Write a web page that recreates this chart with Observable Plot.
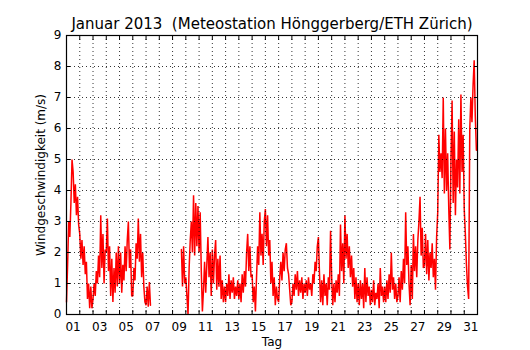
<!DOCTYPE html>
<html>
<head>
<meta charset="utf-8">
<script src="https://cdn.jsdelivr.net/npm/d3@7"></script>
<script src="https://cdn.jsdelivr.net/npm/@observablehq/plot@0.6"></script>
<style>
  html, body { margin: 0; padding: 0; background: #fff; }
  svg { font-family: "DejaVu Sans", sans-serif; }
</style>
</head>
<body>
<div id="chart"></div>
<script>
const title = "Januar 2013  (Meteostation Hönggerberg/ETH Zürich)";
const yLabel = "Windgeschwindigkeit (m/s)";
const xLabel = "Tag";
const stepHours = 2; // one reading every 2 hours, starting 1 Jan 2013 00:00
const dayTickLabels = ["01","03","05","07","09","11","13","15","17","19","21","23","25","27","29","31"];
const yTicks = [0,1,2,3,4,5,6,7,8,9];

// wind speed (m/s), 12 readings per day; null = no data
const speed = [
  /* 01 */ 0.4, 1.6, 3.0, 2.5, 3.6, 5.0, 4.6, 3.6, 4.2, 3.2, 3.8, 2.9,
  /* 02 */ 2.6, 1.8, 2.4, 1.6, 2.2, 1.3, 1.7, 0.5, 1.0, 0.2, 0.9, 0.2,
  /* 03 */ 0.5, 1.0, 0.6, 1.4, 1.0, 1.9, 1.2, 3.2, 1.5, 2.6, 1.0, 2.1,
  /* 04 */ 2.0, 3.1, 1.4, 2.2, 0.6, 1.8, 0.4, 1.5, 0.7, 2.0, 0.9, 2.2,
  /* 05 */ 1.0, 2.0, 0.7, 1.6, 1.1, 2.2, 1.4, 2.4, 3.0, 1.5, 2.1, 0.6,
  /* 06 */ 0.6, 1.5, 1.1, 2.3, 1.8, 3.1, 1.7, 2.6, 1.2, 2.0, 0.9, 0.4,
  /* 07 */ 0.3, 0.9, 0.25, 1.05, 0.3, null, null, null, null, null, null, null,
  /* 08 */ null, null, null, null, null, null, null, null, null, null, null, null,
  /* 09 */ null, null, null, null, null, null, null, null, 2.1, 0.9, 2.2, 1.0,
  /* 10 */ 1.2, 0.6, 0.0, 1.5, 2.4, 3.0, 2.0, 3.85, 1.9, 3.6, 2.2, 3.5,
  /* 11 */ 2.0, 3.3, 1.4, 0.1, 0.8, 1.7, 0.7, 1.6, 2.5, 1.2, 2.0, 0.6,
  /* 12 */ 2.1, 1.0, 1.9, 2.4, 0.8, 1.8, 0.9, 1.9, 0.5, 1.1, 0.4, 0.9,
  /* 13 */ 0.4, 1.0, 0.6, 1.3, 0.5, 1.1, 0.7, 1.2, 0.5, 0.9, 0.6, 1.1,
  /* 14 */ 0.5, 1.0, 0.4, 1.3, 0.7, 1.4, 0.9, 2.0, 2.6, 1.4, 2.2, 1.2,
  /* 15 */ 1.3, 0.4, 0.9, 0.1, 1.2, 2.2, 1.6, 3.3, 1.9, 2.6, 1.6, 3.0,
  /* 16 */ 3.4, 2.2, 3.2, 1.9, 2.4, 1.0, 1.7, 0.6, 1.2, 0.3, 0.9, 0.5,
  /* 17 */ 0.4, 1.2, 1.7, 1.1, 2.0, 1.4, 2.1, 2.3, 1.5, 1.3, 0.8, 0.3,
  /* 18 */ 0.4, 1.0, 0.6, 1.3, 0.8, 1.4, 0.6, 1.1, 0.7, 1.2, 0.5, 1.0,
  /* 19 */ 0.7, 1.1, 0.6, 1.2, 0.8, 1.0, 0.6, 1.3, 1.0, 1.7, 1.4, 2.2,
  /* 20 */ 2.5, 1.3, 0.4, 1.1, 0.3, 1.3, 0.6, 1.0, 0.3, 1.2, 0.8, 2.7,
  /* 21 */ 1.2, 0.3, 1.0, 0.4, 1.1, 0.7, 1.3, 0.6, 2.9, 1.4, 2.3, 1.0,
  /* 22 */ 3.2, 1.8, 2.6, 1.5, 2.2, 1.2, 1.9, 0.9, 1.5, 0.5, 1.2, 0.4,
  /* 23 */ 1.0, 0.3, 1.1, 0.5, 1.0, 0.2, 1.5, 0.4, 1.2, 0.6, 0.9, 0.3,
  /* 24 */ 0.8, 0.4, 1.1, 0.3, 0.7, 0.5, 1.0, 0.2, 1.5, 0.6, 0.9, 0.4,
  /* 25 */ 0.9, 0.4, 1.1, 0.5, 1.3, 0.7, 2.0, 0.8, 1.2, 0.5, 1.0, 0.4,
  /* 26 */ 0.6, 1.2, 0.4, 1.4, 0.8, 1.8, 1.0, 3.3, 1.6, 2.2, 1.0, 0.3,
  /* 27 */ 1.6, 0.5, 2.6, 1.4, 2.2, 1.2, 2.4, 3.0, 3.8, 1.9, 2.8, 1.5,
  /* 28 */ 1.6, 2.6, 1.3, 2.4, 1.1, 2.0, 1.5, 2.3, 1.2, 1.8, 0.8, 2.5,
  /* 29 */ 3.3, 5.8, 4.6, 5.2, 4.4, 7.0, 3.9, 6.0, 4.0, 5.2, 3.4, 2.1,
  /* 30 */ 5.0, 6.9, 3.6, 5.9, 3.2, 5.0, 4.1, 6.3, 3.9, 7.1, 4.6, 5.8,
  /* 31 */ 3.4, 2.6, 1.6, 0.9, 0.5, 6.0, 7.0, 6.2, 7.4, 8.2, 6.4, 5.3
];

const data = speed.map((v, i) => ({t: i * stepHours / 24, v}));
const nDays = Math.round(speed.length * stepHours / 24);
const dayBounds = d3.range(1, nDays);                  // midnight boundaries
const labelPos = dayTickLabels.map(s => +s - 0.5);     // labels at noon

const grid = {stroke: "#000", strokeOpacity: 1, strokeWidth: 0.8, strokeDasharray: "1,3"};

const chart = Plot.plot({
  width: 530,
  height: 350,
  marginLeft: 66,
  marginRight: 53,
  marginTop: 35,
  marginBottom: 36,
  style: {fontFamily: "DejaVu Sans, sans-serif", fontSize: "12px", color: "#000", background: "#fff"},
  x: {domain: [0, nDays]},
  y: {domain: [yTicks[0], yTicks[yTicks.length - 1]]},
  marks: [
    Plot.lineY(data, {x: "t", y: "v", stroke: "#ff0000", strokeWidth: 1.5, strokeLinejoin: "miter"}),
    Plot.gridX(dayBounds, grid),
    Plot.gridY(yTicks.slice(1, -1), grid),
    Plot.axisX(dayBounds, {anchor: "bottom", tickSize: -4, fill: "none", label: null, stroke: "#000"}),
    Plot.axisX(dayBounds, {anchor: "top", tickSize: -4, fill: "none", label: null, stroke: "#000"}),
    Plot.axisX(labelPos, {anchor: "bottom", tickSize: 0, tickPadding: 8, label: null,
      tickFormat: d => String(d + 0.5).padStart(2, "0"), fontSize: 12}),
    Plot.axisY(yTicks, {anchor: "left", tickSize: -4, fill: "none", label: null, stroke: "#000"}),
    Plot.axisY(yTicks, {anchor: "right", tickSize: -4, fill: "none", label: null, stroke: "#000"}),
    Plot.axisY(yTicks, {anchor: "left", tickSize: 0, tickPadding: 5, label: null, fontSize: 12}),
    Plot.frame({stroke: "#000", strokeWidth: 1.2}),
    Plot.text([title], {text: d => d, frameAnchor: "top", lineAnchor: "bottom", dy: -7, fontSize: 15}),
    Plot.text([yLabel], {text: d => d, frameAnchor: "left", textAnchor: "middle", lineAnchor: "middle", rotate: -90, dx: -25, fontSize: 12}),
    Plot.text([xLabel], {text: d => d, frameAnchor: "bottom", dy: 31, fontSize: 12})
  ]
});
document.getElementById("chart").appendChild(chart);
</script>
</body>
</html>
